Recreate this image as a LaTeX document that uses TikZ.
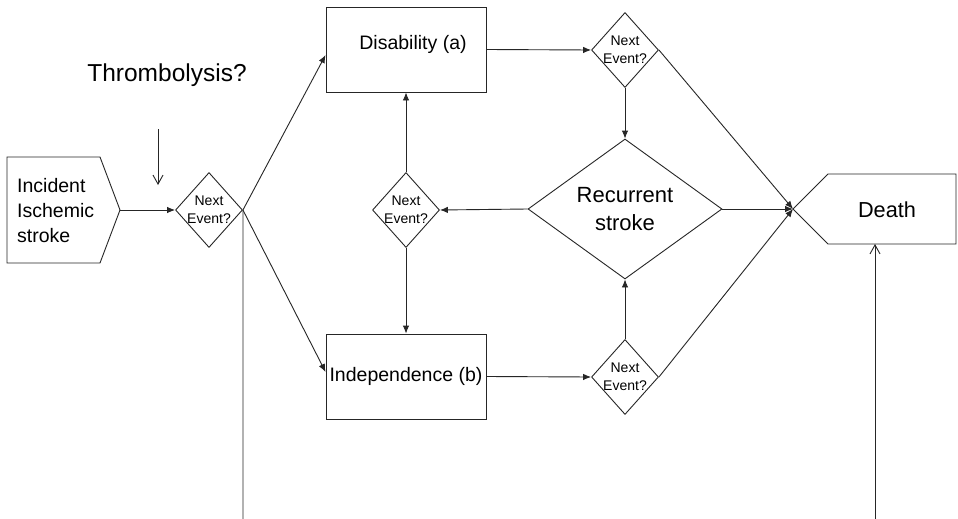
\documentclass[tikz,border=0pt]{standalone}
\usepackage{fontspec}
\setmainfont{Liberation Sans}
\usetikzlibrary{shapes.geometric,arrows.meta}
\newcommand\fbx{\fontsize{19.5}{23}\selectfont}
\newcommand\fev{\fontsize{14}{18}\selectfont}
\newcommand\frec{\fontsize{22}{28}\selectfont}
\newcommand\finc{\fontsize{19.5}{25}\selectfont}
\newcommand\fdeath{\fontsize{21.7}{26}\selectfont}
\newcommand\fthr{\fontsize{24.5}{28}\selectfont}
\begin{document}
\begin{tikzpicture}[x=1pt,y=-1pt,
  ln/.style={draw=black!85, line width=0.9pt},
  arr/.style={ln, -{Latex[length=8pt,width=6.5pt]}},
  oarr/.style={ln, -{Straight Barb[length=9pt,width=10pt]}},
  box/.style={ln, rectangle, inner sep=0pt, minimum width=160pt, minimum height=85pt, font=\fbx},
  dia/.style={ln, diamond, inner sep=0pt, minimum width=67pt, minimum height=75pt,
    label={[align=center, font=\fev, inner sep=0pt]center:{Next\\Event?}}}]
\useasboundingbox (0,0) rectangle (958,519);
\fill[white] (0,0) rectangle (958,519);

% shapes
\draw[ln] (7,157) -- (100,157) -- (120,210) -- (100,263) -- (7,263) -- cycle;
\coordinate (inctip) at (120,210);
\node[anchor=west, align=left, font=\finc, inner sep=0pt] (inc) at (17,211) {Incident\\Ischemic\\stroke};

\draw[ln] (793,209) -- (828,174) -- (956,174) -- (956,244) -- (828,244) -- cycle;
\coordinate (dtip) at (793,209);
\coordinate (dbot) at (875,244);
\node[font=\fdeath] (death) at (887,210) {Death};

\node[font=\fthr] (thr) at (167,75) {Thrombolysis?};
\coordinate (tA) at (158,129);
\coordinate (tB) at (158,185);

\node[box, label={[font=\fbx, xshift=7pt, yshift=5.5pt]center:Disability (a)}] (dis) at (406,49.5) {};
\node[box] (ind) at (406,376.5) {Independence (b)};

\node[dia] (d1) at (209,210) {};
\node[dia] (d2) at (625,50) {};
\node[dia] (d3) at (406,210) {};
\node[dia] (d4) at (625,377) {};
\node[ln, diamond, inner sep=0pt, minimum width=194pt, minimum height=140pt,
  label={[align=center, font=\frec, inner sep=0pt]center:{Recurrent\\stroke}}] (rec) at (625,209) {};

\coordinate (b1) at (243,519);
\coordinate (b2) at (875,519);

% connectors
\draw[oarr] (tA) -- (tB);
\draw[arr] (inctip) -- (d1.west);
\draw[arr] (d1.east) -- ([yshift=-5.5pt]dis.west);
\draw[arr] (d1.east) -- ([yshift=4.5pt]ind.west);
\draw[ln] (d1.east) -- (b1);
\draw[arr] (dis.east) -- (d2.west);
\draw[arr] (d2.south) -- (rec.north);
\draw[arr] (d2.east) -- (dtip);
\draw[arr] (rec.east) -- (dtip);
\draw[arr] (d4.east) -- (dtip);
\draw[arr] (rec.west) -- (d3.east);
\draw[arr] (d3.north) -- (dis.south);
\draw[arr] (d3.south) -- (ind.north);
\draw[arr] (ind.east) -- (d4.west);
\draw[arr] (d4.north) -- (rec.south);
\draw[oarr] (b2) -- (dbot);
\end{tikzpicture}
\end{document}
